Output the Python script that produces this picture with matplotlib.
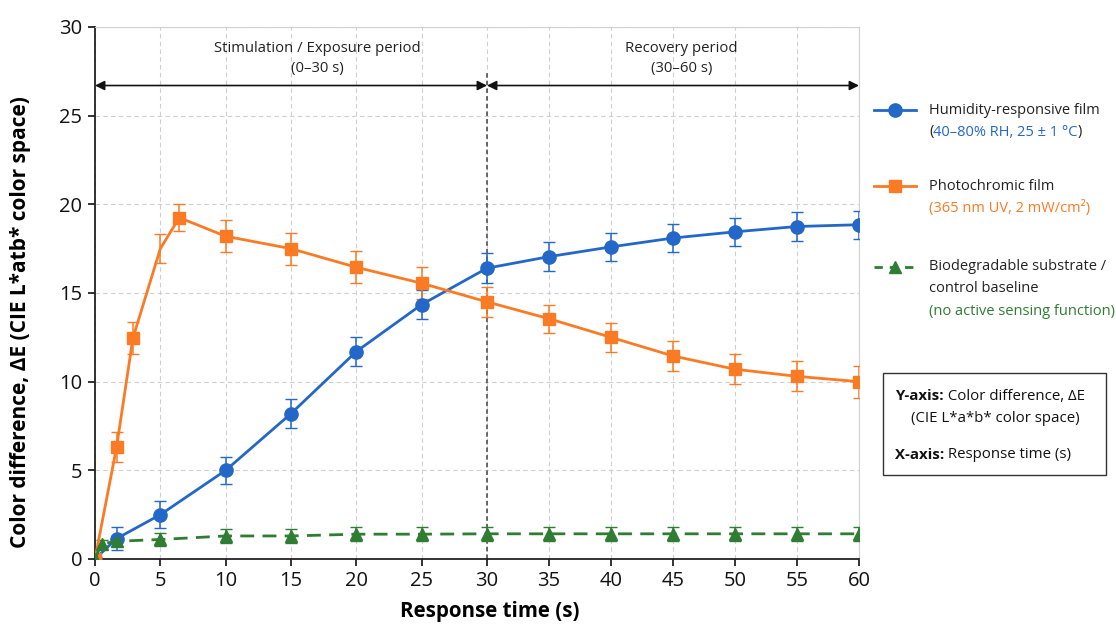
import matplotlib
matplotlib.use("Agg")
import numpy as np
import matplotlib.pyplot as plt
from matplotlib.lines import Line2D
from matplotlib.patches import Rectangle

plt.rcParams['font.family'] = ['Open Sans', 'DejaVu Sans']

# ---------------- data ----------------
hum_x = [0, 1.65, 5, 10, 15, 20, 25, 30, 35, 40, 45, 50, 55, 60]
hum_y = [0, 1.15, 2.5, 5.0, 8.2, 11.7, 14.35, 16.4, 17.05, 17.6, 18.1, 18.45, 18.75, 18.85]
hum_err = [0, 0.65, 0.75, 0.75, 0.8, 0.8, 0.8, 0.85, 0.8, 0.8, 0.8, 0.8, 0.8, 0.8]

pho_x = [0, 1.65, 2.9, 5.0, 6.45, 10, 15, 20, 25, 30, 35, 40, 45, 50, 55, 60]
pho_y = [0, 6.3, 12.45, 17.5, 19.25, 18.2, 17.5, 16.45, 15.55, 14.5, 13.55, 12.5, 11.45, 10.7, 10.3, 10.0]
pho_err = [0, 0.85, 0.9, 0.8, 0.75, 0.9, 0.9, 0.9, 0.9, 0.85, 0.8, 0.8, 0.85, 0.85, 0.85, 0.9]

bio_x = [0, 0.5, 1.65, 5, 10, 15, 20, 25, 30, 35, 40, 45, 50, 55, 60]
bio_y = [0, 0.85, 1.0, 1.1, 1.3, 1.3, 1.4, 1.4, 1.42, 1.42, 1.42, 1.42, 1.42, 1.42, 1.42]
bio_err = [0, 0.2, 0.25, 0.35, 0.4, 0.4, 0.4, 0.4, 0.4, 0.4, 0.4, 0.4, 0.4, 0.4, 0.4]

xticks = [0, 5, 10, 15, 20, 25, 30, 35, 40, 45, 50, 55, 60]
yticks = [0, 5, 10, 15, 20, 25, 30]

BLUE = '#2367c8'
ORANGE = '#fb7a24'
GREEN = '#2e7d32'

W, H = 1116, 626
fig = plt.figure(figsize=(W / 100, H / 100), dpi=100)
ax = fig.add_axes([95 / W, 1 - 559 / H, (859 - 95) / W, (559 - 27) / H])

# the stimulation half of the axis is drawn slightly wider than the recovery half
K1, K2 = 392.0 / 30, 372.0 / 30


def fwd(x):
    x = np.asarray(x, dtype=float)
    return np.where(x <= 30, x * K1, 30 * K1 + (x - 30) * K2)


def inv(u):
    u = np.asarray(u, dtype=float)
    return np.where(u <= 30 * K1, u / K1, 30 + (u - 30 * K1) / K2)


ax.set_xscale('function', functions=(fwd, inv))
ax.set_xlim(0, 60)
ax.set_ylim(0, 30)
ax.set_xticks(xticks)
ax.set_yticks(yticks)
ax.set_xticklabels([str(t) for t in xticks])
ax.set_yticklabels([str(t) for t in yticks])
ax.tick_params(labelsize=14.5, length=5, width=1.2, colors='#111111', pad=4)
ax.grid(True, color='#cfcfcf', linestyle=(0, (4, 3)), linewidth=0.8)
ax.set_axisbelow(True)
for s in ['top', 'right']:
    ax.spines[s].set_color('#d0d0d0')
for s in ['left', 'bottom']:
    ax.spines[s].set_color('#222222')
    ax.spines[s].set_linewidth(1.3)

# series
ax.errorbar(hum_x, hum_y, yerr=hum_err, fmt='none', ecolor=BLUE, elinewidth=1.1, capsize=4, zorder=3)
ax.plot(hum_x, hum_y, color=BLUE, lw=2, marker='o', ms=9.5, zorder=4)

ax.errorbar(pho_x, pho_y, yerr=pho_err, fmt='none', ecolor=ORANGE, elinewidth=1.1, capsize=4, zorder=3)
pho_mark = [i for i in range(len(pho_x)) if i != 3]
ax.plot(pho_x, pho_y, color=ORANGE, lw=2, marker='s', ms=9, markevery=pho_mark, zorder=4)

ax.errorbar(bio_x, bio_y, yerr=bio_err, fmt='none', ecolor=GREEN, elinewidth=1.1, capsize=4, zorder=3)
ax.plot(bio_x, bio_y, color=GREEN, lw=2, ls=(0, (5, 3)), marker='^', ms=8.5, zorder=4)

# period annotations
ax.vlines(30, 0, 27.5, colors='#444444', linestyles=(0, (3, 2)), linewidth=1.1, zorder=2)
ax.annotate('', xy=(0, 26.7), xytext=(30, 26.7),
            arrowprops=dict(arrowstyle='<|-|>', color='#111111', lw=1.2,
                            shrinkA=0, shrinkB=0, mutation_scale=14))
ax.annotate('', xy=(30, 26.7), xytext=(60, 26.7),
            arrowprops=dict(arrowstyle='<|-|>', color='#111111', lw=1.2,
                            shrinkA=0, shrinkB=0, mutation_scale=14))
ax.text(17.0, 28.25, 'Stimulation / Exposure period\n(0\u201330 s)', ha='center', va='center',
        fontsize=10.7, color='#222222', linespacing=1.45)
ax.text(45.7, 28.25, 'Recovery period\n(30\u201360 s)', ha='center', va='center',
        fontsize=10.7, color='#222222', linespacing=1.45)

ax.set_xlabel('Response time (s)', fontsize=14.8, fontweight='bold')
ax.xaxis.label.set_va('center')
ax.xaxis.set_label_coords((490 - 95) / 764, (559 - 612) / 532)
ax.set_ylabel('Color difference, \u0394E (CIE L*atb* color space)', fontsize=15,
              fontweight='bold')
ax.yaxis.label.set_va('center')
ax.yaxis.set_label_coords((21 - 95) / 764, (559 - 322) / 532)

# ---------------- legend (manual) ----------------
def fx(px):
    return px / W


def fy(py):
    return 1 - py / H


FS = 10.5
entries = [
    (BLUE, '-', 'o', 9.5, 110, ['Humidity-responsive film']),
    (ORANGE, '-', 's', 9, 186, ['Photochromic film']),
    (GREEN, (0, (3, 2.5)), '^', 8.5, 267, ['Biodegradable substrate /', 'control baseline']),
]
subs = {BLUE: '40\u201380% RH, 25 \u00b1 1 \u00b0C',
        ORANGE: '(365 nm UV, 2 mW/cm\u00b2)',
        GREEN: '(no active sensing function)'}
for col, ls, mk, ms, ypx, lines in entries:
    fig.add_artist(Line2D([fx(874), fx(916)], [fy(ypx), fy(ypx)], color=col, lw=2, ls=ls,
                          transform=fig.transFigure))
    fig.add_artist(Line2D([fx(895)], [fy(ypx)], color=col, marker=mk, ms=ms, lw=0,
                          transform=fig.transFigure))
    yy = ypx
    for ln in lines:
        fig.text(fx(929), fy(yy), ln, fontsize=FS, color='#222222', va='center', ha='left')
        yy += 22
    if col == BLUE:
        t0 = fig.text(fx(929), fy(yy), '(', fontsize=FS, color='#222222', va='center', ha='left')
        a = plt.annotate(subs[col], xy=(1, 0.5), xycoords=t0,
                         va='center', ha='left', fontsize=FS, color=BLUE,
                         annotation_clip=False)
        plt.annotate(')', xy=(1, 0.5), xycoords=a, va='center', ha='left', fontsize=FS,
                     color='#222222', annotation_clip=False)
    else:
        fig.text(fx(929), fy(yy), subs[col], fontsize=FS, color=col, va='center', ha='left')

# info box
FB = 10.8
fig.add_artist(Rectangle((fx(883), fy(475)), fx(1106) - fx(883), fy(373) - fy(475),
                         transform=fig.transFigure, fill=False, edgecolor='#333333', lw=1.0))
ty = fig.text(fx(895), fy(396), 'Y-axis:', fontsize=FB, fontweight='bold', color='#111111',
              va='center', ha='left')
plt.annotate(' Color difference, \u0394E', xy=(1, 0.5), xycoords=ty, va='center', ha='left',
             fontsize=FB, color='#111111', annotation_clip=False)
fig.text(fx(911), fy(418), '(CIE L*a*b* color space)', fontsize=FB, color='#111111',
         va='center', ha='left')
tx = fig.text(fx(895), fy(455), 'X-axis:', fontsize=FB, fontweight='bold', color='#111111',
              va='center', ha='left')
plt.annotate(' Response time (s)', xy=(1, 0.5), xycoords=tx, va='center', ha='left',
             fontsize=FB, color='#111111', annotation_clip=False)

fig.savefig('out.png', dpi=100, facecolor='white')
